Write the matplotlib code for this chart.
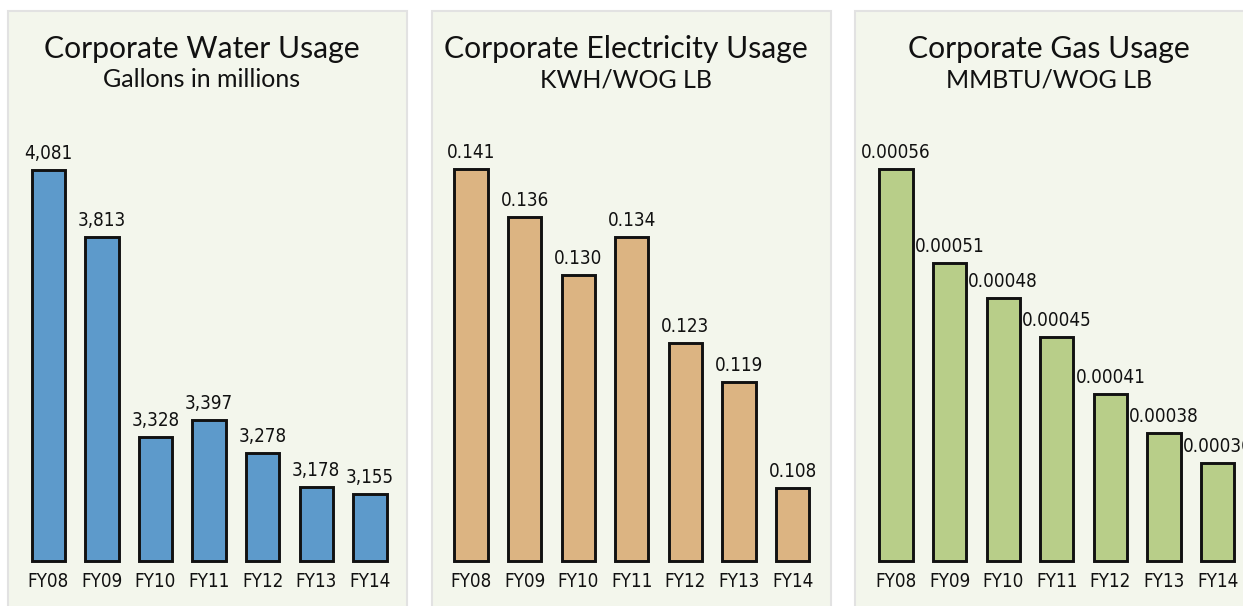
import matplotlib
matplotlib.use("Agg")
import matplotlib.pyplot as plt
from matplotlib.patches import Rectangle
from matplotlib import font_manager

years = ["FY08", "FY09", "FY10", "FY11", "FY12", "FY13", "FY14"]

# labels as printed; bar heights as drawn in the source (it is not quite to scale)
water_labels = ["4,081", "3,813", "3,328", "3,397", "3,278", "3,178", "3,155"]
water_heights = [4139, 3935, 3328, 3380, 3280, 3177, 3155]

elec_labels = ["0.141", "0.136", "0.130", "0.134", "0.123", "0.119", "0.108"]
elec_heights = [0.141, 0.136, 0.130, 0.134, 0.123, 0.119, 0.108]

gas_labels = ["0.00056", "0.00051", "0.00048", "0.00045", "0.00041", "0.00038", "0.00036"]
gas_heights = [0.000576, 0.000507, 0.000481, 0.000453, 0.000411, 0.000382, 0.000360]

titles = ["Corporate Water Usage", "Corporate Electricity Usage", "Corporate Gas Usage"]
subtitles = ["Gallons in millions", "KWH/WOG LB", "MMBTU/WOG LB"]
colors = ["#5d9acb", "#dcb482", "#b8ce89"]

# the small labels in the original use a condensed face; take one if there is one
narrow_file = None
for f in font_manager.fontManager.ttflist:
    if f.style != "normal" or f.weight not in (400, "normal", "regular"):
        continue
    if "Narrow" in f.name or "Condensed" in f.name or f.stretch == "condensed":
        narrow_file = f.fname
        break
if narrow_file:
    small = font_manager.FontProperties(fname=narrow_file, size=13.5)
else:
    small = font_manager.FontProperties(family="Lato", size=13)

W, H = 1243, 606
fig = plt.figure(figsize=(W / 100, H / 100), dpi=100)
fig.patch.set_facecolor("white")

panel_left = [8, 432, 855]
axes_left = [21.5, 444.2, 869.2]
ylims = [(2952, 2952 + 431 * 3.035),
         (0.10045, 0.10045 + 431 * 1.0345e-4),
         (0.000288, 0.000288 + 431 * 7.35e-7)]
heights = [water_heights, elec_heights, gas_heights]
labels = [water_labels, elec_labels, gas_labels]

for i in range(3):
    # panel background
    fig.patches.append(Rectangle((panel_left[i] / W, -0.02), 399 / W, (H - 11) / H + 0.02,
                                 transform=fig.transFigure, facecolor="#f3f6ec",
                                 edgecolor="#e2e2e2", lw=1.5, zorder=-5))
    cx = (panel_left[i] + 194) / W
    fig.text(cx, 1 - 58 / H, titles[i], ha="center", va="baseline",
             fontsize=21.7, family="Lato", color="#111111")
    fig.text(cx, 1 - 87 / H, subtitles[i], ha="center", va="baseline",
             fontsize=18, family="Lato", color="#111111")

    ax = fig.add_axes([axes_left[i] / W, 45 / H, 375.2 / W, 431 / H])
    ax.set_facecolor("none")
    b0 = ylims[i][0]
    x = range(len(years))
    bars = ax.bar(x, [h - b0 for h in heights[i]], width=0.62, bottom=b0,
                  color=colors[i], edgecolor="#111111", linewidth=2.1, clip_on=False)
    ax.set_xlim(-0.5, 6.5)
    ax.set_ylim(*ylims[i])
    for b, lab in zip(bars, labels[i]):
        ax.annotate(lab, (b.get_x() + b.get_width() / 2, b.get_y() + b.get_height()),
                    xytext=(0, 5), textcoords="offset points", ha="center",
                    va="bottom", fontproperties=small, color="#111111",
                    annotation_clip=False)
    ax.set_xticks(list(x))
    ax.set_xticklabels(years, fontproperties=small, color="#111111")
    ax.tick_params(axis="x", length=0, pad=8)
    ax.set_yticks([])
    for s in ax.spines.values():
        s.set_visible(False)

fig.savefig("out.png", dpi=100, facecolor=fig.get_facecolor())
